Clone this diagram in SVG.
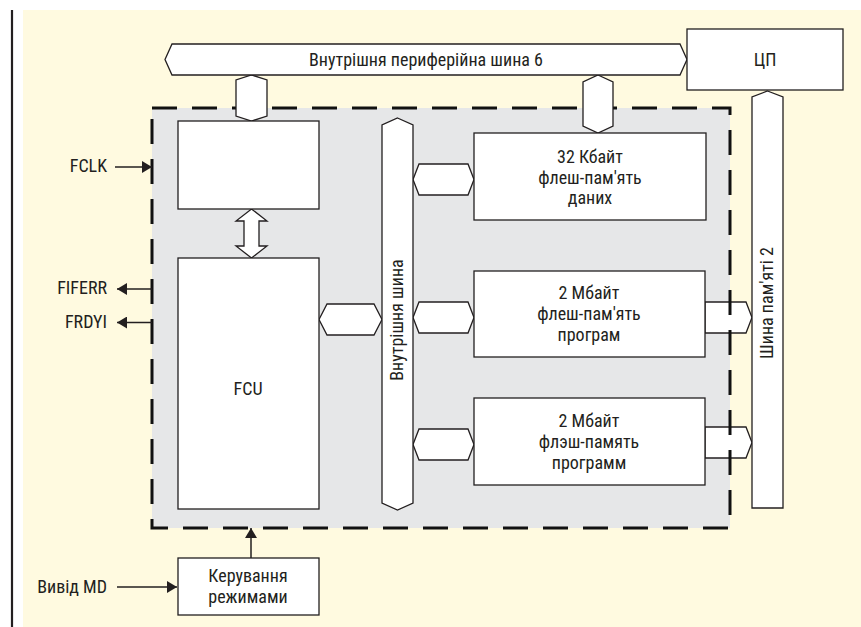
<svg xmlns="http://www.w3.org/2000/svg" width="861" height="627" viewBox="0 0 861 627">
<style>
  .bg{fill:#fffae0}
  .blk{fill:#fff;stroke:#231f20;stroke-width:1.3}
  .t{font-family:"Liberation Sans Narrow","Roboto Condensed","DejaVu Sans Condensed","Liberation Sans",sans-serif;font-size:18px;font-weight:normal;fill:#231f20}
  .m{text-anchor:middle}
  .e{text-anchor:end}
  .ln{stroke:#231f20;stroke-width:1.5;fill:none}
</style>
<defs>
  <marker id="ah" viewBox="0 0 10 12" refX="10" refY="6" markerWidth="10" markerHeight="12" markerUnits="userSpaceOnUse" orient="auto">
    <path d="M0,0 L10,6 L0,12 Z" fill="#231f20"/>
  </marker>
</defs>
<rect x="0" y="0" width="861" height="627" fill="#fff"/>
<rect class="bg" x="23" y="10" width="838" height="617"/>
<line x1="12" y1="10" x2="12" y2="627" stroke="#231f20" stroke-width="2.2"/>

<rect x="152" y="108" width="578" height="420" fill="#e6e7e8"/>

<g id="connectors">
  <polygon class="blk" points="705,302 746,302 752,317.5 746,333 705,333"/>
  <polygon class="blk" points="705,427 746,427 752,442.5 746,458 705,458"/>
  <rect x="152" y="108" width="578" height="420" fill="none" stroke="#111" stroke-width="3" stroke-dasharray="25 15"/>
  <polygon class="blk" points="251.5,75 267,80 267,116 251.5,121 236,116 236,80"/>
  <polygon class="blk" points="598,75 613,82 613,126 598,133 583,126 583,82"/>
  <polygon class="blk" points="251.5,209 267,221 259,221 259,246 267,246 251.5,258 236,246 244,246 244,221 236,221"/>
  <polygon class="blk" points="319,319.5 327,304 374,304 382,319.5 374,335 327,335"/>
  <polygon class="blk" points="413,179.5 419,164 468,164 474,179.5 468,195 419,195"/>
  <polygon class="blk" points="413,317.5 419,302 468,302 474,317.5 468,333 419,333"/>
  <polygon class="blk" points="413,444.5 419,429 468,429 474,444.5 468,460 419,460"/>
  <line class="ln" x1="115" y1="167" x2="152" y2="167" marker-end="url(#ah)"/>
  <line class="ln" x1="152" y1="289" x2="117" y2="289" marker-end="url(#ah)"/>
  <line class="ln" x1="152" y1="322.5" x2="117" y2="322.5" marker-end="url(#ah)"/>
  <line class="ln" x1="117" y1="587" x2="177" y2="587" marker-end="url(#ah)"/>
  <line class="ln" x1="251" y1="558" x2="251" y2="528" marker-end="url(#ah)"/>
</g>

<g id="periph-bus">
  <polygon class="blk" points="165,59.5 172,44 680,44 687,59.5 680,75 172,75"/>
  <text class="t m" x="426" y="66">Внутрішня периферійна шина 6</text>
</g>
<g id="cpu">
  <rect class="blk" x="687" y="29" width="156" height="61"/>
  <text class="t m" x="765" y="66">ЦП</text>
</g>
<g id="mem-bus">
  <polygon class="blk" points="767.5,91 783,97 783,508 752,508 752,97"/>
  <text class="t m" transform="translate(773,303) rotate(-90)">Шина пам'яті 2</text>
</g>
<g id="int-bus">
  <polygon class="blk" points="397.5,118 413,125 413,503 397.5,510 382,503 382,125"/>
  <text class="t m" transform="translate(403,320) rotate(-90)">Внутрішня шина</text>
</g>
<g id="top-block">
  <rect class="blk" x="178" y="121" width="141" height="88"/>
</g>
<g id="fcu">
  <rect class="blk" x="178" y="258" width="141" height="251"/>
  <text class="t m" x="248" y="395">FCU</text>
</g>
<g id="flash-data">
  <rect class="blk" x="474" y="133" width="232" height="87"/>
  <text class="t m" x="590" y="163">32 Кбайт</text>
  <text class="t m" x="590" y="184">флеш-пам'ять</text>
  <text class="t m" x="590" y="204">даних</text>
</g>
<g id="flash-prog">
  <rect class="blk" x="474" y="271" width="231" height="86"/>
  <text class="t m" x="589" y="299">2 Мбайт</text>
  <text class="t m" x="589" y="320">флеш-пам'ять</text>
  <text class="t m" x="589" y="341">програм</text>
</g>
<g id="flash-prog-ru">
  <rect class="blk" x="474" y="398" width="231" height="87"/>
  <text class="t m" x="589" y="427">2 Мбайт</text>
  <text class="t m" x="589" y="448">флэш-память</text>
  <text class="t m" x="589" y="469">программ</text>
</g>
<g id="mode-ctrl">
  <rect class="blk" x="178" y="558" width="141" height="57"/>
  <text class="t m" x="248" y="582">Керування</text>
  <text class="t m" x="248" y="603">режимами</text>
</g>
<g id="labels">
  <text class="t e" x="107" y="172">FCLK</text>
  <text class="t e" x="107" y="294">FIFERR</text>
  <text class="t e" x="107" y="328">FRDYI</text>
  <text class="t e" x="107" y="593">Вивід MD</text>
</g>
</svg>
